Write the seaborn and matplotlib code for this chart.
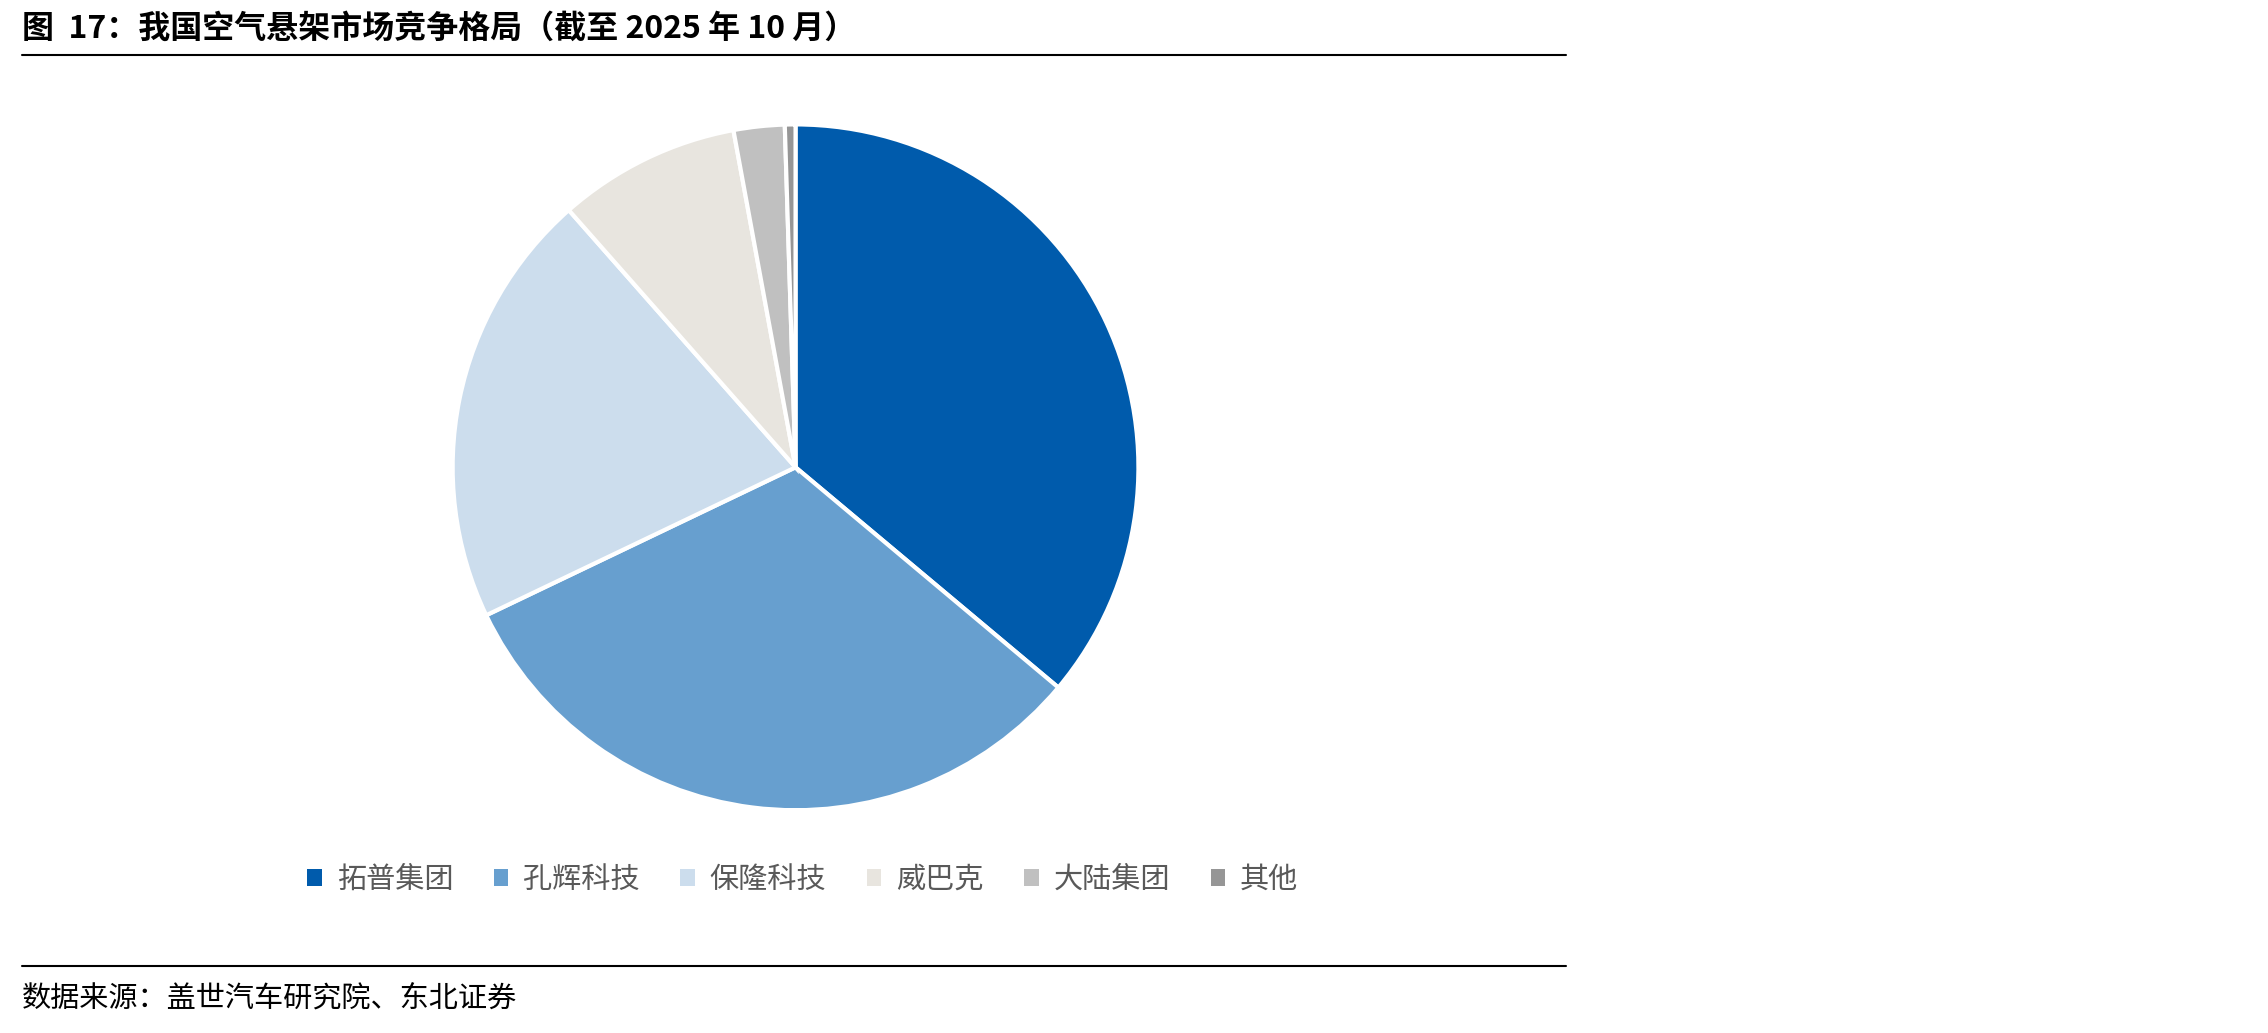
import matplotlib
matplotlib.use("Agg")
import matplotlib.pyplot as plt
import seaborn as sns
from matplotlib.lines import Line2D
from matplotlib.patches import Patch

categories = ["拓普集团", "孔辉科技", "保隆科技", "威巴克", "大陆集团", "其他"]
shares = [36.1, 31.8, 20.6, 8.6, 2.4, 0.5]
colors = ["#005BAC", "#679FCF", "#CCDDED", "#E8E5DF", "#C0C0C0", "#969696"]

sns.set_theme(style="white")
plt.rcParams['font.family'] = ['Noto Sans CJK SC', 'DejaVu Sans']

W, H = 2268, 1033
fig = plt.figure(figsize=(W/100, H/100), dpi=100)

cx, cy = 550/1568, 1 - 323/714
rh = 237/714
rw = rh * H / W
ax = fig.add_axes([cx - rw, cy - rh, 2*rw, 2*rh])
ax.pie(shares, colors=colors, startangle=90, counterclock=False,
       wedgeprops=dict(edgecolor="white", linewidth=3))
ax.set_xlim(-1, 1); ax.set_ylim(-1, 1)
ax.set_aspect("equal")
ax.axis("off")

fig.text(15/1568, 1 - 20/714, "图  17：我国空气悬架市场竞争格局（截至 2025 年 10 月）",
         fontsize=23, fontweight="bold", va="center", ha="left", color="black")
fig.add_artist(Line2D([15/1568, 1083/1568], [1 - 38/714]*2, color="black", lw=1.5))
fig.add_artist(Line2D([15/1568, 1083/1568], [1 - 668/714]*2, color="black", lw=1.5))
fig.text(15/1568, 1 - 690/714, "数据来源：盖世汽车研究院、东北证券",
         fontsize=21, va="center", ha="left", color="black")

handles = [Patch(facecolor=c, edgecolor="none") for c in colors]
fig.legend(handles, categories, loc="center", bbox_to_anchor=(555/1568, 1 - 608/714),
           ncol=6, frameon=False, fontsize=21, handlelength=0.5, handleheight=0.5,
           columnspacing=1.4, handletextpad=0.5, labelcolor="#595959")

fig.savefig("out.png", dpi=100, facecolor="white")
